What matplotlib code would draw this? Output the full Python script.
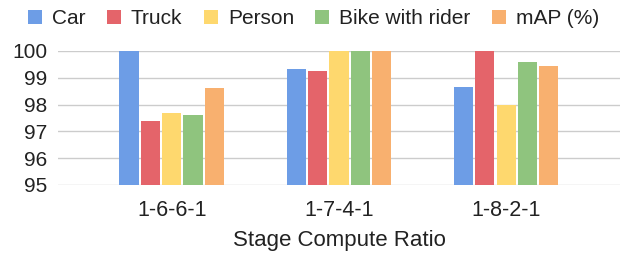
import matplotlib
matplotlib.use("Agg")
import matplotlib.pyplot as plt
import numpy as np

plt.rcParams['font.family'] = ['Liberation Sans', 'DejaVu Sans']

categories = ["1-6-6-1", "1-7-4-1", "1-8-2-1"]
series_names = ["Car", "Truck", "Person", "Bike with rider", "mAP (%)"]
car = [100.0, 99.34, 98.67]
truck = [97.38, 99.27, 100.0]
person = [97.70, 100.0, 98.00]
bike = [97.60, 100.0, 99.58]
mAP = [98.63, 100.0, 99.45]
values = [car, truck, person, bike, mAP]
colors = ["#6d9de6", "#e4646a", "#fed86e", "#8fc47e", "#f8b06f"]
yticks = [95, 96, 97, 98, 99, 100]

fig = plt.figure(figsize=(6.22, 2.54), dpi=100)
ax = fig.add_axes([0.0932, 0.2717, 0.9035, 0.5276])
x = np.arange(len(categories))
bw = 0.1275
for i, (name, vals, c) in enumerate(zip(series_names, values, colors)):
    offs = (i - 2) * bw
    ax.bar(x + offs, np.array(vals) - 95, width=bw * 0.9, bottom=95,
           color=c, label=name, zorder=3, linewidth=0)
ax.set_ylim(95, 100)
ax.set_xlim(-0.68, 2.68)
ax.set_yticks(yticks)
ax.set_yticklabels([str(t) for t in yticks], fontsize=15, color="#222222")
ax.set_xticks(x)
ax.set_xticklabels(categories, fontsize=15.5, color="#222222")
ax.tick_params(axis='y', length=0, pad=7.5)
ax.tick_params(axis='x', length=0, pad=11)
ax.grid(axis='y', color="#cccccc", linewidth=1, zorder=0)
for s in ax.spines.values():
    s.set_visible(False)
ax.set_xlabel("Stage Compute Ratio", fontsize=16, color="#222222", labelpad=6)

leg = fig.legend(loc='center left', bbox_to_anchor=(0.045, 1 - 18.5 / 254), ncol=5,
                 frameon=False, fontsize=15, handlelength=0.67, handleheight=0.67,
                 handletextpad=0.48, columnspacing=1.03, borderaxespad=0, borderpad=0)
for t in leg.get_texts():
    t.set_color("#222222")
fig.savefig("out.png", dpi=100)
